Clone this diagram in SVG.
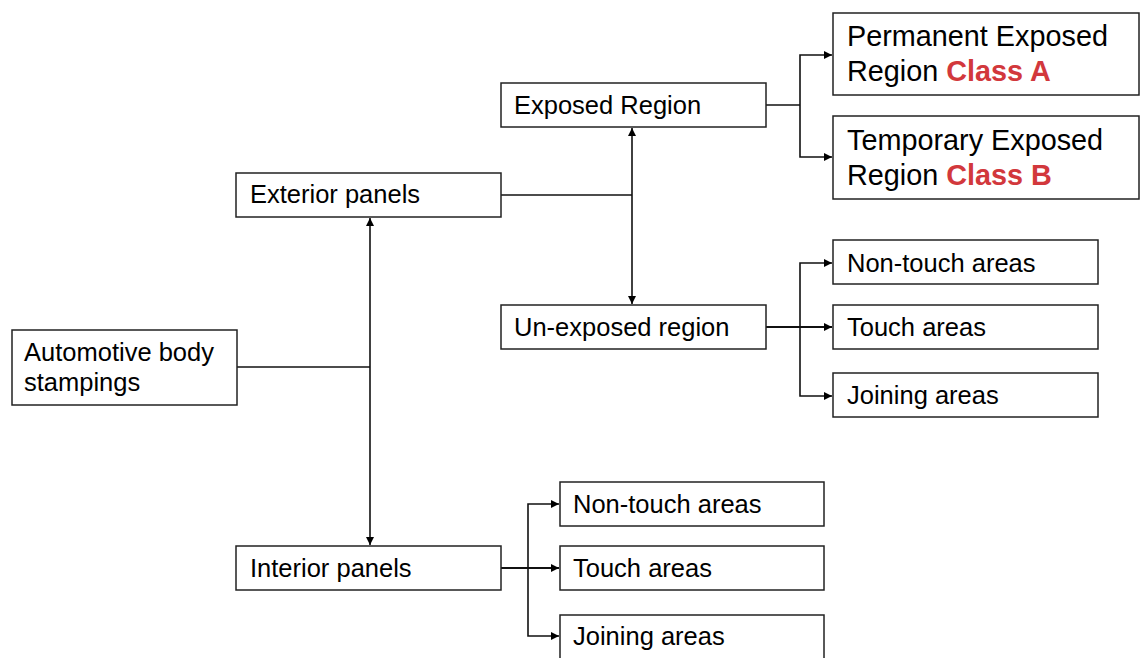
<svg xmlns="http://www.w3.org/2000/svg" width="1140" height="658" viewBox="0 0 1140 658">
<style>
.box{fill:#fff;stroke:#222;stroke-width:1.5}
.t{font-family:"Liberation Sans",Arial,sans-serif;font-size:25.5px;fill:#000}
.tl{font-family:"Liberation Sans",Arial,sans-serif;font-size:28.8px;fill:#000}
.red{fill:#d2383c;font-weight:bold}
.c{fill:none;stroke:#111;stroke-width:1.6}
</style>
<defs>
<marker id="ah" viewBox="0 0 10 10" refX="10" refY="5" markerWidth="9" markerHeight="8" markerUnits="userSpaceOnUse" orient="auto">
<path d="M0,0 L10,5 L0,10 z" fill="#000"/>
</marker>
</defs>
<rect width="1140" height="658" fill="#fff"/>
<g id="connectors">
<path class="c" d="M237,367 H370"/>
<path class="c" d="M370,367 V218" marker-end="url(#ah)"/>
<path class="c" d="M370,367 V545" marker-end="url(#ah)"/>
<path class="c" d="M501,195 H632"/>
<path class="c" d="M632,195 V128" marker-end="url(#ah)"/>
<path class="c" d="M632,195 V304" marker-end="url(#ah)"/>
<path class="c" d="M766,105 H800"/>
<path class="c" d="M800,105 V55 H832" marker-end="url(#ah)"/>
<path class="c" d="M800,105 V157 H832" marker-end="url(#ah)"/>
<path class="c" d="M766,327 H832" marker-end="url(#ah)" style="stroke-width:2"/>
<path class="c" d="M800,327 V263 H832" marker-end="url(#ah)"/>
<path class="c" d="M800,327 V396 H832" marker-end="url(#ah)"/>
<path class="c" d="M501,568 H559" marker-end="url(#ah)" style="stroke-width:2"/>
<path class="c" d="M528,568 V504 H559" marker-end="url(#ah)"/>
<path class="c" d="M528,568 V636 H559" marker-end="url(#ah)"/>
</g>
<g id="automotive">
<rect class="box" x="12" y="330" width="225" height="75"/>
<text class="t" x="24" y="361">Automotive body</text>
<text class="t" x="24" y="391">stampings</text>
</g>
<g id="exterior">
<rect class="box" x="236" y="173" width="265" height="44"/>
<text class="t" x="250" y="203">Exterior panels</text>
</g>
<g id="interior">
<rect class="box" x="236" y="546" width="265" height="44"/>
<text class="t" x="250" y="577">Interior panels</text>
</g>
<g id="exposed">
<rect class="box" x="501" y="83" width="265" height="44"/>
<text class="t" x="514" y="114">Exposed Region</text>
</g>
<g id="unexposed">
<rect class="box" x="501" y="305" width="265" height="44"/>
<text class="t" x="514" y="336">Un-exposed region</text>
</g>
<g id="permanent">
<rect class="box" x="833" y="13" width="306" height="82"/>
<text class="tl" x="847" y="46">Permanent Exposed</text>
<text class="tl" x="847" y="81">Region <tspan class="red">Class A</tspan></text>
</g>
<g id="temporary">
<rect class="box" x="833" y="116" width="306" height="83"/>
<text class="tl" x="847" y="150">Temporary Exposed</text>
<text class="tl" x="847" y="185">Region <tspan class="red">Class B</tspan></text>
</g>
<g id="ext-nontouch">
<rect class="box" x="833" y="240" width="265" height="44"/>
<text class="t" x="847" y="272">Non-touch areas</text>
</g>
<g id="ext-touch">
<rect class="box" x="833" y="305" width="265" height="44"/>
<text class="t" x="847" y="336">Touch areas</text>
</g>
<g id="ext-joining">
<rect class="box" x="833" y="373" width="265" height="44"/>
<text class="t" x="847" y="404">Joining areas</text>
</g>
<g id="int-nontouch">
<rect class="box" x="560" y="482" width="264" height="44"/>
<text class="t" x="573" y="513">Non-touch areas</text>
</g>
<g id="int-touch">
<rect class="box" x="560" y="546" width="264" height="44"/>
<text class="t" x="573" y="577">Touch areas</text>
</g>
<g id="int-joining">
<rect class="box" x="560" y="615" width="264" height="44"/>
<text class="t" x="573" y="645">Joining areas</text>
</g>
</svg>
